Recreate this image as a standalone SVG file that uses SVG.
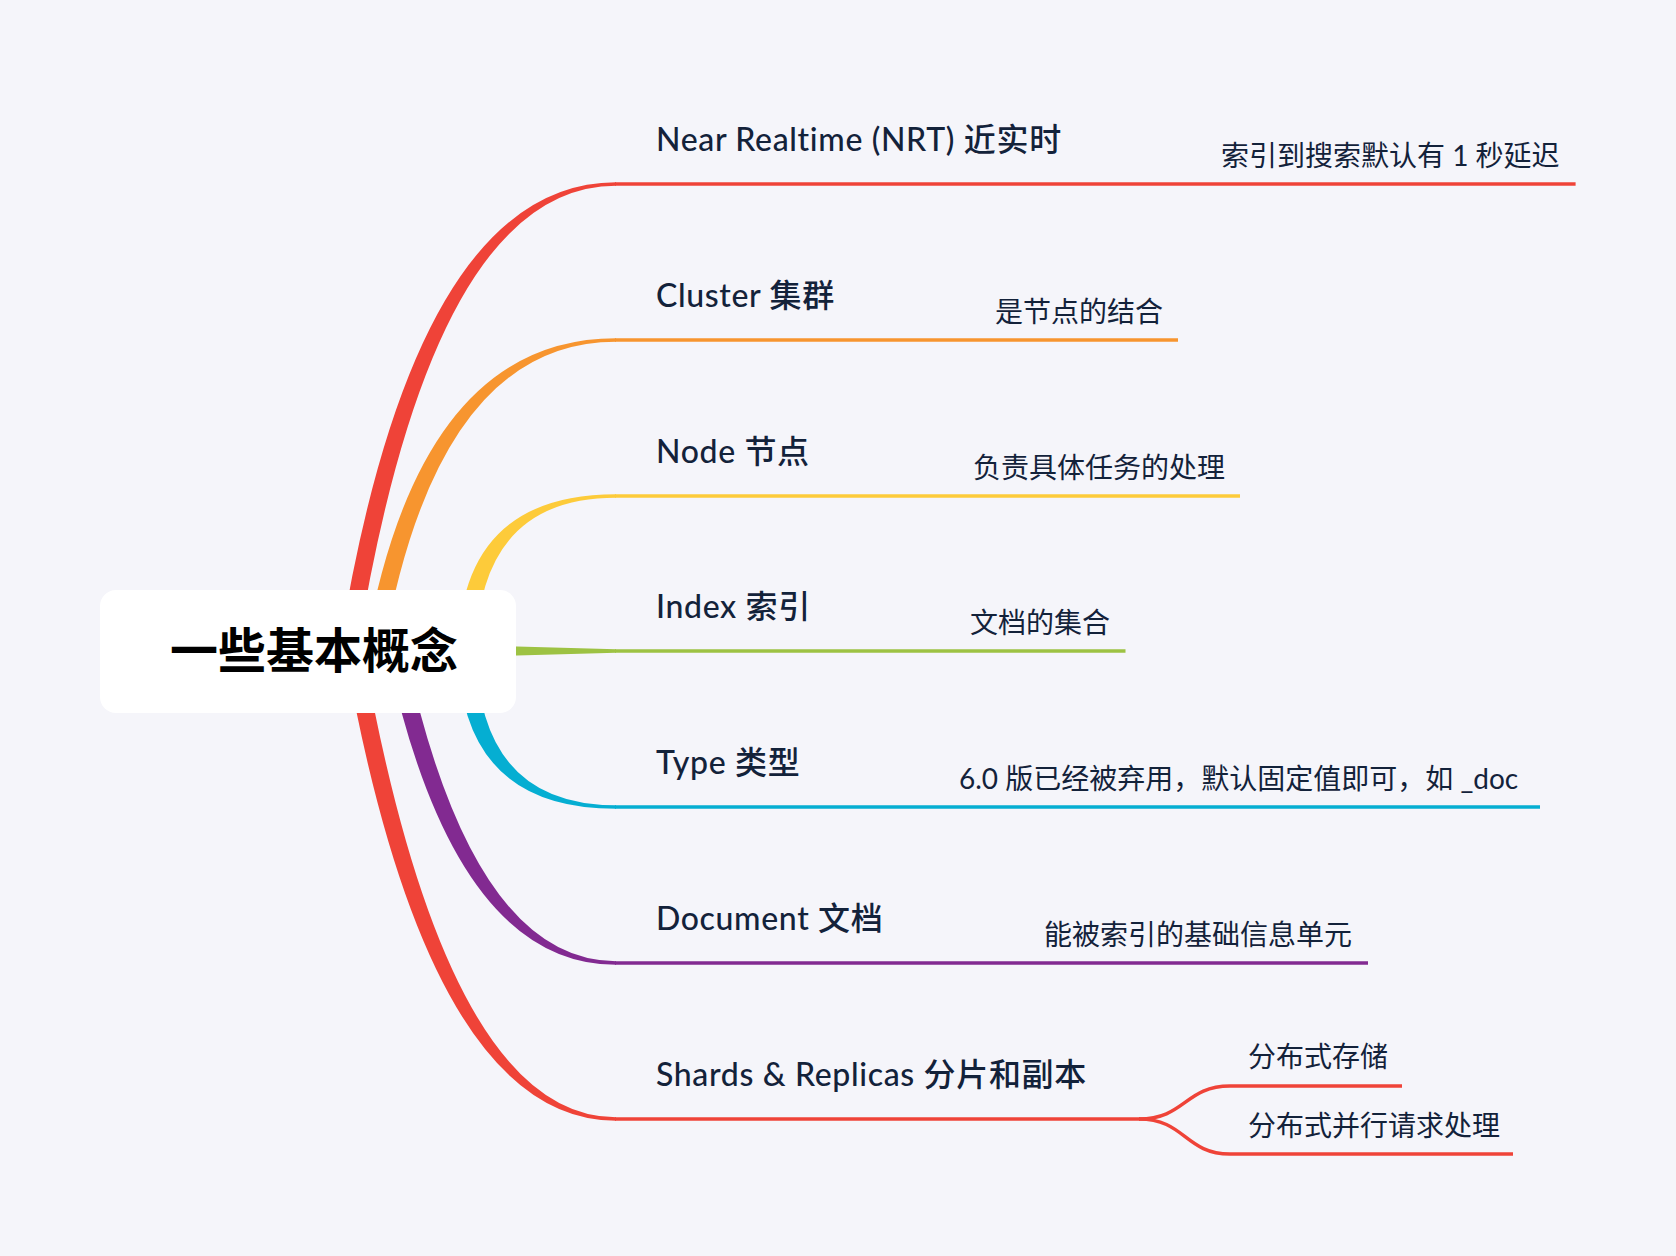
<svg xmlns="http://www.w3.org/2000/svg" width="1676" height="1256" viewBox="0 0 1676 1256">
<style>
.bg{fill:#f5f5fa}
.line{fill:none;stroke-width:3.5;stroke-linecap:butt}
.main{font-family:"Lato","Noto Sans CJK SC",sans-serif;font-size:32px;font-weight:500;letter-spacing:0.65px;fill:#13223a}
.sub{font-family:"Lato","Noto Sans CJK SC",sans-serif;font-size:28px;fill:#13223a}
.root{font-family:"Noto Sans CJK SC",sans-serif;font-size:48px;font-weight:bold;fill:#000}
.red{stroke:#ef4338}.redf{fill:#ef4338}
.orange{stroke:#f7952f}.orangef{fill:#f7952f}
.yellow{stroke:#fdcb3a}.yellowf{fill:#fdcb3a}
.green{stroke:#9dc243}.greenf{fill:#9dc243}
.cyan{stroke:#05aed2}.cyanf{fill:#05aed2}
.purple{stroke:#822a91}.purplef{fill:#822a91}
</style>
<rect class="bg" x="0" y="0" width="1676" height="1256"/>
<g id="connectors">
  <path class="redf" d="M339.1,649.6 Q414.2,182.25 616,182.25 L616,185.75 Q431.9,185.75 356.9,652.4 Z"/>
  <line class="line red" x1="615" y1="184" x2="1575.6" y2="184"/>
  <path class="orangef" d="M365.1,649.5 Q419.2,338.25 616,338.25 L616,341.75 Q436.8,341.75 382.9,652.5 Z"/>
  <line class="line orange" x1="615" y1="340" x2="1178" y2="340"/>
  <path class="yellowf" d="M458,650.8 Q461,494.25 616,494.25 L616,497.75 Q479,497.75 476,651.2 Z"/>
  <line class="line yellow" x1="615" y1="496" x2="1240" y2="496"/>
  <path class="greenf" d="M308,641 L616,649.25 L616,652.75 L308,661 Z"/>
  <line class="line green" x1="615" y1="651" x2="1125.5" y2="651"/>
  <path class="cyanf" d="M458,651.2 Q461,808.75 616,808.75 L616,805.25 Q479,805.25 476,650.8 Z"/>
  <line class="line cyan" x1="615" y1="807" x2="1540" y2="807"/>
  <path class="purplef" d="M387.2,652.9 Q454.2,964.75 616,964.75 L616,961.25 Q471.8,961.25 404.8,649.1 Z"/>
  <line class="line purple" x1="615" y1="963" x2="1368" y2="963"/>
  <path class="redf" d="M345.1,652.6 Q428.2,1120.75 616,1120.75 L616,1117.25 Q445.8,1117.25 362.9,649.4 Z"/>
  <line class="line red" x1="615" y1="1119" x2="1140" y2="1119"/>
  <path class="line red" d="M1139,1119 C1185,1119 1185,1086 1230,1086 L1402,1086"/>
  <path class="line red" d="M1139,1119 C1185,1119 1185,1154 1230,1154 L1513,1154"/>
</g>
<g id="root">
  <rect x="100" y="590" width="416" height="123" rx="16" ry="16" fill="#ffffff"/>
  <text class="root" x="314" y="668" text-anchor="middle">一些基本概念</text>
</g>
<g id="node-nrt">
  <text class="main" x="656" y="151">Near Realtime (NRT) 近实时</text>
  <text class="sub" x="1221" y="166">索引到搜索默认有 1 秒延迟</text>
</g>
<g id="node-cluster">
  <text class="main" x="656" y="307">Cluster 集群</text>
  <text class="sub" x="995" y="322">是节点的结合</text>
</g>
<g id="node-node">
  <text class="main" x="656" y="463">Node 节点</text>
  <text class="sub" x="973" y="478">负责具体任务的处理</text>
</g>
<g id="node-index">
  <text class="main" x="656" y="618">Index 索引</text>
  <text class="sub" x="970" y="633">文档的集合</text>
</g>
<g id="node-type">
  <text class="main" x="656" y="774">Type 类型</text>
  <text class="sub" x="959" y="789">6.0 版已经被弃用，默认固定值即可，如 _doc</text>
</g>
<g id="node-document">
  <text class="main" x="656" y="930">Document 文档</text>
  <text class="sub" x="1044" y="945">能被索引的基础信息单元</text>
</g>
<g id="node-shards">
  <text class="main" x="656" y="1086">Shards &amp; Replicas 分片和副本</text>
  <text class="sub" x="1248" y="1067">分布式存储</text>
  <text class="sub" x="1248" y="1136">分布式并行请求处理</text>
</g>
</svg>
